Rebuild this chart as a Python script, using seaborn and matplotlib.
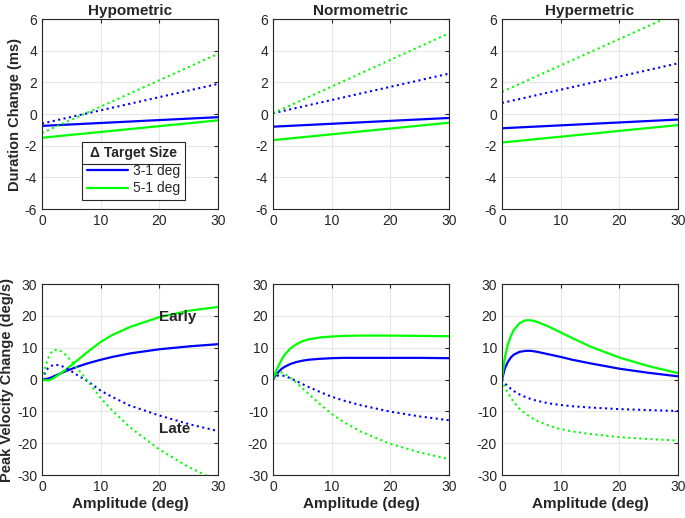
import numpy as np
import pandas as pd
import matplotlib
matplotlib.use("Agg")
import matplotlib.pyplot as plt
import seaborn as sns
from matplotlib.lines import Line2D

sns.set_style("white")
plt.rcParams['font.family'] = ['Liberation Sans', 'DejaVu Sans']
plt.rcParams['axes.unicode_minus'] = False

BLUE = "#0000ff"
GREEN = "#00ff00"

conditions = ["Hypometric", "Normometric", "Hypermetric"]

# duration change (ms): straight lines, values at 0 and 30 deg
amp_dur = [0, 30]
dur_early_31 = {"Hypometric": [-0.75, -0.2], "Normometric": [-0.8, -0.25], "Hypermetric": [-0.9, -0.35]}
dur_early_51 = {"Hypometric": [-1.5, -0.4], "Normometric": [-1.65, -0.55], "Hypermetric": [-1.8, -0.7]}
dur_late_31 = {"Hypometric": [-0.6, 1.9], "Normometric": [0.05, 2.55], "Hypermetric": [0.7, 3.2]}
dur_late_51 = {"Hypometric": [-1.2, 3.8], "Normometric": [0.05, 5.1], "Hypermetric": [1.4, 6.4]}

# peak velocity change (deg/s)
amp_vel = [0, 0.5, 1, 1.5, 2, 3, 4, 5, 6, 8, 10, 12, 15, 20, 25, 30]
vel_early_31 = {
    "Hypometric": [0, 0.1, 0.3, 0.6, 1.0, 1.8, 2.6, 3.3, 4.0, 5.2, 6.2, 7.1, 8.2, 9.5, 10.4, 11.1],
    "Normometric": [0, 1.4, 2.5, 3.4, 4.0, 4.9, 5.5, 5.9, 6.2, 6.5, 6.7, 6.8, 6.8, 6.8, 6.8, 6.7],
    "Hypermetric": [0, 3.5, 5.5, 6.9, 7.8, 8.7, 9.0, 9.0, 8.7, 7.9, 7.1, 6.2, 5.1, 3.4, 2.1, 1.0],
}
vel_early_51 = {
    "Hypometric": [0, -0.2, -0.3, 0.0, 0.5, 1.7, 3.0, 4.5, 6.0, 9.0, 11.8, 14.0, 16.5, 19.6, 21.6, 22.8],
    "Normometric": [0, 2.5, 4.5, 6.3, 7.8, 9.8, 11.1, 12.0, 12.6, 13.2, 13.5, 13.7, 13.8, 13.8, 13.7, 13.6],
    "Hypermetric": [0, 7.0, 11.0, 13.6, 15.5, 17.7, 18.6, 18.6, 18.1, 16.6, 14.8, 13.0, 10.4, 6.9, 4.2, 2.0],
}
vel_late_31 = {
    "Hypometric": [0, 2.0, 3.5, 4.2, 4.6, 4.5, 3.7, 2.6, 1.4, -0.8, -3.5, -5.5, -8.2, -11.3, -14.0, -16.2],
    "Normometric": [0, 1.0, 1.3, 1.3, 1.1, 0.4, -0.5, -1.4, -2.3, -3.9, -5.4, -6.6, -8.1, -10.1, -11.6, -12.8],
    "Hypermetric": [0, -1.2, -2.1, -2.9, -3.6, -4.7, -5.5, -6.2, -6.7, -7.5, -8.0, -8.4, -8.8, -9.3, -9.6, -9.9],
}
vel_late_51 = {
    "Hypometric": [0, 3.5, 6.5, 8.3, 9.3, 9.2, 7.8, 5.8, 3.6, -1.0, -5.8, -9.8, -15.0, -22.0, -27.5, -32.0],
    "Normometric": [0, 1.5, 2.2, 2.2, 1.8, 0.5, -1.0, -2.7, -4.4, -7.7, -10.8, -13.3, -16.4, -20.2, -22.9, -25.0],
    "Hypermetric": [0, -2.4, -4.2, -5.7, -7.0, -9.2, -10.7, -12.0, -13.0, -14.5, -15.6, -16.3, -17.1, -18.1, -18.7, -19.2],
}

fig = plt.figure(figsize=(6.85, 5.18), dpi=100)
lefts = [0.0613, 0.3985, 0.7328]
width = 0.257


def style_axes(ax, yticks):
    ax.set_xlim(0, 30)
    ax.set_ylim(yticks[0], yticks[-1])
    ax.set_xticks([0, 10, 20, 30])
    ax.set_yticks(yticks)
    ax.grid(True, color="#e6e6e6", linewidth=0.8)
    ax.set_axisbelow(True)
    for s in ax.spines.values():
        s.set_color("#262626")
        s.set_linewidth(0.8)
    ax.tick_params(direction="in", length=3, labelsize=10, colors="#262626",
                   top=True, right=True, labelcolor="#262626")
    ax.set_xlabel("")
    ax.set_ylabel("")


for i, cond in enumerate(conditions):
    # top row: duration
    ax = fig.add_axes([lefts[i], 0.5965, width, 0.3668])
    sns.lineplot(x=amp_dur, y=dur_early_31[cond], color=BLUE, lw=1.6, ax=ax)
    sns.lineplot(x=amp_dur, y=dur_early_51[cond], color=GREEN, lw=1.6, ax=ax)
    sns.lineplot(x=amp_dur, y=dur_late_31[cond], color=BLUE, lw=1.5, ls=":", ax=ax)
    sns.lineplot(x=amp_dur, y=dur_late_51[cond], color=GREEN, lw=1.5, ls=":", ax=ax)
    style_axes(ax, [-6, -4, -2, 0, 2, 4, 6])
    ax.set_title(cond, fontsize=11, fontweight="bold", pad=3)
    if i == 0:
        ax.set_ylabel("Duration Change (ms)", fontsize=10.5, fontweight="bold", labelpad=2)
        handles = [Line2D([], [], color=BLUE, lw=1.6), Line2D([], [], color=GREEN, lw=1.6)]
        leg = ax.legend(handles, ["3-1 deg", "5-1 deg"], title="\u0394 Target Size",
                        loc="upper left", bbox_to_anchor=(0.227, 0.355),
                        fontsize=10, title_fontproperties={"weight": "bold", "size": 10},
                        frameon=True, fancybox=False, framealpha=1, edgecolor="#262626",
                        handlelength=3.0, handletextpad=0.3, borderpad=0.35,
                        labelspacing=0.25, borderaxespad=0)
        leg.get_frame().set_linewidth(0.8)
        ax.plot([0.227, 0.784], [0.237, 0.237], transform=ax.transAxes,
                color="#262626", lw=0.8, zorder=10, clip_on=False)

    # bottom row: peak velocity
    ax = fig.add_axes([lefts[i], 0.083, width, 0.3687])
    sns.lineplot(x=amp_vel, y=vel_early_31[cond], color=BLUE, lw=1.6, ax=ax)
    sns.lineplot(x=amp_vel, y=vel_early_51[cond], color=GREEN, lw=1.6, ax=ax)
    sns.lineplot(x=amp_vel, y=vel_late_31[cond], color=BLUE, lw=1.5, ls=":", ax=ax)
    sns.lineplot(x=amp_vel, y=vel_late_51[cond], color=GREEN, lw=1.5, ls=":", ax=ax)
    style_axes(ax, [-30, -20, -10, 0, 10, 20, 30])
    ax.set_xlabel("Amplitude (deg)", fontsize=11, fontweight="bold", labelpad=2)
    if i == 0:
        ax.set_ylabel("Peak Velocity Change (deg/s)", fontsize=10.5, fontweight="bold", labelpad=2)
        ax.text(20, 19.5, "Early", fontsize=11, fontweight="bold", va="center", ha="left")
        ax.text(20, -15.5, "Late", fontsize=11, fontweight="bold", va="center", ha="left")

fig.savefig("out.png", dpi=100)
